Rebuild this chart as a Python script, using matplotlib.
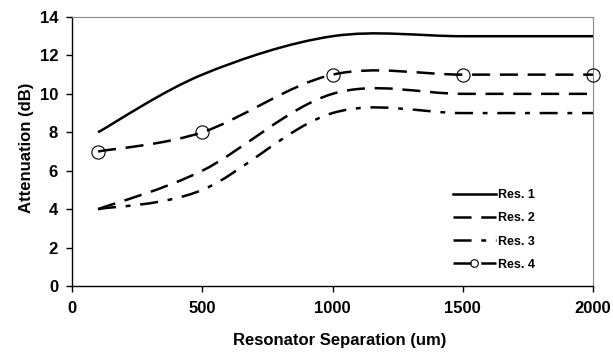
import numpy as np
import matplotlib
matplotlib.use("Agg")
import matplotlib.pyplot as plt
from matplotlib.path import Path
from matplotlib.patches import PathPatch
from matplotlib.lines import Line2D

plt.rcParams['font.family'] = ['Liberation Sans', 'DejaVu Sans']
plt.rcParams['font.weight'] = 'bold'
plt.rcParams['lines.scale_dashes'] = False

# Data
separation = [100, 500, 1000, 1500, 2000]
res1 = [8, 11, 13, 13, 13]
res2 = [4, 6, 10, 10, 10]
res3 = [4, 5, 9, 9, 9]
res4 = [7, 8, 11, 11, 11]
labels = ["Res. 1", "Res. 2", "Res. 3", "Res. 4"]
x_ticks = [0, 500, 1000, 1500, 2000]
y_ticks = [0, 2, 4, 6, 8, 10, 12, 14]


def smooth_path(xs, ys):
    pts = np.column_stack([xs, ys]).astype(float)
    n = len(pts)
    verts = [pts[0]]
    codes = [Path.MOVETO]
    for i in range(n - 1):
        p0 = pts[i - 1] if i > 0 else pts[i]
        p1 = pts[i]
        p2 = pts[i + 1]
        p3 = pts[i + 2] if i + 2 < n else pts[i + 1]
        c1 = p1 + (p2 - p0) / 6.0
        c2 = p2 - (p3 - p1) / 6.0
        verts += [c1, c2, p2]
        codes += [Path.CURVE4] * 3
    return Path(verts, codes)


fig = plt.figure(figsize=(6.13, 3.52), dpi=100)
ax = fig.add_axes([72 / 613, 1 - 286 / 352, (593 - 72) / 613, (286 - 17) / 352])

lw = 1.8
long_dash = (0, (13, 7))
dash_dot = (0, (13, 7, 3.5, 7))
styles = ['-', long_dash, dash_dot, long_dash]
series = [res1, res2, res3, res4]

for ys, ls in zip(series, styles):
    patch = PathPatch(smooth_path(separation, ys), fill=False, edgecolor='black',
                      lw=lw, linestyle=ls, capstyle='butt')
    ax.add_patch(patch)

ax.plot(separation, res4, linestyle='none', marker='o', mfc='none', mec='black',
        ms=9.5, mew=0.8, clip_on=False, zorder=5)

ax.set_xlim(0, 2000)
ax.set_ylim(0, 14)
ax.set_xticks(x_ticks)
ax.set_yticks(y_ticks)
ax.tick_params(axis='both', direction='out', length=4, width=1, labelsize=12)
ax.tick_params(axis='x', pad=7)
ax.tick_params(axis='y', pad=6)
for lab in ax.get_xticklabels() + ax.get_yticklabels():
    lab.set_fontweight('bold')

for side in ['left', 'bottom']:
    ax.spines[side].set_color('black')
    ax.spines[side].set_linewidth(1.0)
for side in ['top', 'right']:
    ax.spines[side].set_color('#888888')
    ax.spines[side].set_linewidth(0.8)

ax.set_xlabel("Resonator Separation (um)", fontsize=12, fontweight='bold')
ax.set_ylabel("Attenuation (dB)", fontsize=12, fontweight='bold')
ax.xaxis.label.set_va('center')
ax.yaxis.label.set_va('center')
ax.xaxis.set_label_coords((340 - 72) / 521, (286 - 340) / 269)
ax.yaxis.set_label_coords((27 - 72) / 521, (286 - 148) / 269)

handles = [
    Line2D([], [], color='black', lw=lw, linestyle='-'),
    Line2D([], [], color='black', lw=lw, linestyle=long_dash),
    Line2D([], [], color='black', lw=lw, linestyle=dash_dot),
    Line2D([], [], color='black', lw=lw, linestyle=long_dash, marker='o',
           mfc='none', mec='black', ms=5.5, mew=0.8),
]
fig.legend(handles, labels, loc='upper left', bbox_to_anchor=(453 / 613, 1 - 189 / 352),
           bbox_transform=fig.transFigure, frameon=False,
           prop={'weight': 'bold', 'size': 9}, handlelength=3.4, handletextpad=0.2,
           labelspacing=0.9, borderpad=0, borderaxespad=0, numpoints=1)

fig.savefig("out.png", dpi=100)
